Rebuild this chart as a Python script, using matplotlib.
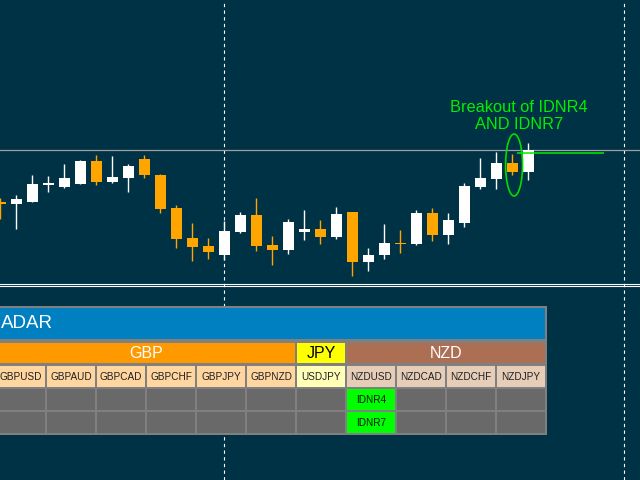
import numpy as np
import matplotlib.pyplot as plt
from matplotlib.patches import Rectangle, Ellipse

# OHLC (arbitrary price units)
opens = [98, 96, 98, 115, 113, 116, 139, 118, 122, 141, 125, 92, 62, 54, 45, 68, 85,
         55, 50, 68, 71, 63, 88, 38, 45, 57, 56, 87, 65, 77, 113, 121, 137, 128]
highs = [102, 105, 125, 124, 136, 140, 145, 144, 136, 145, 126, 95, 77, 62, 79, 88, 102,
         64, 81, 90, 80, 93, 88, 52, 76, 70, 90, 92, 87, 117, 142, 148, 146, 157]
lows = [81, 71, 98, 108, 112, 116, 115, 117, 108, 122, 87, 52, 39, 41, 40, 67, 49,
        35, 46, 60, 56, 61, 24, 29, 41, 47, 55, 59, 56, 73, 111, 111, 125, 120]
closes = [96, 101, 116, 117, 122, 139, 118, 123, 134, 125, 91, 61, 53, 48, 69, 85, 54,
          50, 78, 71, 63, 86, 38, 45, 57, 56, 87, 65, 80, 114, 122, 137, 128, 150]

resistance = 150          # grey horizontal level
idnr_high = 147           # green breakout level
separators = [14, 39]     # day separators (bar index)
bottom_levels = [16, 14.5]

# radar table
title = 'ADAR'
groups = ['GBP', 'JPY', 'NZD']
group_sizes = [6, 1, 4]
symbols = ['GBPUSD', 'GBPAUD', 'GBPCAD', 'GBPCHF', 'GBPJPY', 'GBPNZD',
           'USDJPY', 'NZDUSD', 'NZDCAD', 'NZDCHF', 'NZDJPY']
signals_row1 = ['', '', '', '', '', '', '', 'IDNR4', '', '', '']
signals_row2 = ['', '', '', '', '', '', '', 'IDNR7', '', '', '']

bg = '#003246'
bull = 'white'
bear = '#FFA500'
lime = '#00EE00'

group_colors = ['#FF9900', '#FFFF00', '#AD6F53']
group_text = ['white', 'black', 'white']
symbol_colors = ['#FFD5A0', '#FFFFB8', '#E6CDB8']

fig = plt.figure(figsize=(6.4, 4.8), dpi=100, facecolor=bg)
ax = fig.add_axes([0, 0, 1, 1])
ax.set_facecolor(bg)
ax.set_xlim(-0.03, 39.97)
ax.set_ylim(-180, 300)
ax.axis('off')

x = np.arange(len(opens))
o = np.array(opens)
c = np.array(closes)
cols = [bull if cc >= oo else bear for oo, cc in zip(o, c)]
ax.vlines(x, lows, highs, colors=cols, lw=1.0, zorder=3)
ax.bar(x, np.maximum(np.abs(c - o), 1), bottom=np.minimum(o, c), width=0.69,
       color=cols, lw=0, zorder=4)

# levels and separators
ax.axhline(resistance, color='#A0A0A0', lw=0.9, zorder=2)
for lv in bottom_levels:
    ax.axhline(lv, color='white', lw=0.8, zorder=2)
for s in separators:
    ax.axvline(s - 0.03, color='white', lw=0.8, ls=(0, (3, 3)), zorder=1)
ax.hlines(idnr_high, 32.3, 37.7, color=lime, lw=1.1, zorder=5)

# breakout annotation
ax.add_patch(Ellipse((32.1, 135), 1.06, 62, fill=False, ec='#00DD00', lw=1.2, zorder=6))
ax.text(32.4, 184, 'Breakout of IDNR4\nAND IDNR7', color=lime, ha='center', va='center',
        fontsize=11.8, family='Liberation Sans', linespacing=1.1, zorder=6)

# radar panel, in pixel coords
tb = fig.add_axes([0, 0, 1, 1])
tb.set_xlim(0, 640)
tb.set_ylim(480, 0)
tb.axis('off')
tb.patch.set_visible(False)

left0 = -3
cw = 50
tb.add_patch(Rectangle((-10, 306), 557, 129, color='#808080', lw=0))
tb.add_patch(Rectangle((-10, 308), 555, 31, color='#0080C0', lw=0))
tb.text(1, 324, title, color='white', ha='left', va='center', fontsize=13.5,
        family='Liberation Sans')

k = 0
for g, n, gc, tc, sc in zip(groups, group_sizes, group_colors, group_text, symbol_colors):
    gx = left0 + cw * k
    tb.add_patch(Rectangle((gx, 343), cw * n - 2, 20, color=gc, lw=0))
    tb.text(gx + (cw * n - 2) / 2, 353.5, g, color=tc, ha='center', va='center',
            fontsize=11.5, family='Liberation Sans')
    for j in range(n):
        cx = gx + cw * j
        tb.add_patch(Rectangle((cx, 366), cw - 2, 21, color=sc, lw=0))
        tb.text(cx + 24, 377, symbols[k + j], color='#202020', ha='center', va='center',
                fontsize=7.2, family='Liberation Sans')
    k += n

for row, top in zip([signals_row1, signals_row2], [389, 412]):
    for j, sig in enumerate(row):
        cx = left0 + cw * j
        tb.add_patch(Rectangle((cx, top), cw - 2, 21,
                               color='#00FF00' if sig else '#696969', lw=0))
        if sig:
            tb.text(cx + 24, top + 11, sig, color='#101010', ha='center', va='center',
                    fontsize=7.2, family='Liberation Sans')

fig.savefig('out.png', dpi=100, facecolor=bg)
